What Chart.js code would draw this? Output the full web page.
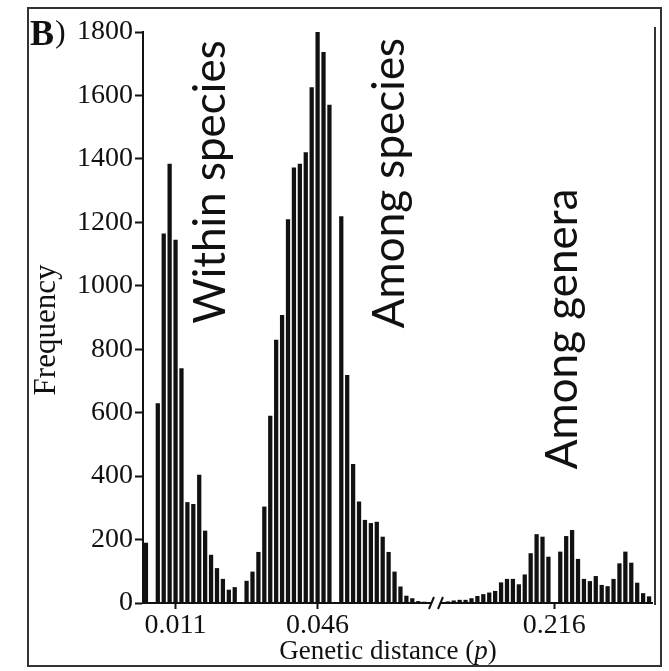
<!DOCTYPE html>
<html>
<head>
<meta charset="utf-8">
<script src="https://cdn.jsdelivr.net/npm/chart.js@4.4.1/dist/chart.umd.min.js"></script>
<style>
  html, body { margin: 0; padding: 0; background: #fff; }
  #wrap { position: relative; width: 669px; height: 671px; }
</style>
</head>
<body>
<div id="wrap"><canvas id="c" width="669" height="671"></canvas></div>
<script>
// ---- data ----
const frequencies = [
  190, 0, 630, 1165, 1385, 1145, 740, 318, 312, 404,
  228, 152, 110, 76, 42, 50, 0, 70, 99, 161,
  304, 590, 830, 908, 1210, 1373, 1385, 1421, 1626, 1800,
  1737, 1571, 0, 1219, 719, 438, 320, 262, 252, 256,
  209, 161, 99, 52, 23, 15, 6, 4, 3, 0,
  0, 5, 8, 10, 10, 15, 22, 28, 33, 38,
  65, 76, 76, 59, 90, 157, 217, 209, 146, 0,
  162, 211, 230, 139, 76, 69, 85, 57, 53, 76,
  125, 162, 127, 64, 31, 21
];
const tickLabelText = ["0.011", "0.046", "0.216"];
const tickLabelIndex = [5, 29, 69];
const breakIndex = 49;
const yTicks = [0, 200, 400, 600, 800, 1000, 1200, 1400, 1600, 1800];
const groupNames = ["Within species", "Among species", "Among genera"];
const groupIndex = [11, 41.2, 70.4];
const groupValue = [1327, 1324, 864];

const categories = frequencies.map((_, i) => {
  const k = tickLabelIndex.indexOf(i);
  return k >= 0 ? tickLabelText[k] : "";
});

const SERIF = "'Liberation Serif', 'Times New Roman', serif";
const SANS = "Lato, 'Liberation Sans', sans-serif";

const decor = {
  id: 'decor',
  afterDraw(chart) {
    const ctx = chart.ctx;
    const xs = chart.scales.x, ys = chart.scales.y;
    const area = chart.chartArea;
    ctx.save();
    // outer frame
    ctx.strokeStyle = '#333';
    ctx.lineWidth = 2;
    ctx.strokeRect(28, 8, 633, 658);
    // right plot border
    ctx.beginPath();
    ctx.moveTo(area.right + 3, area.top - 5);
    ctx.lineTo(area.right + 3, area.bottom + 2);
    ctx.stroke();
    // axis break
    const bx = xs.getPixelForValue(breakIndex);
    const by = area.bottom;
    ctx.fillStyle = '#fff';
    ctx.fillRect(bx - 4, by - 2, 8, 6);
    ctx.strokeStyle = '#111';
    ctx.lineWidth = 2;
    ctx.beginPath();
    ctx.moveTo(bx - 7, by + 6); ctx.lineTo(bx - 2, by - 6);
    ctx.moveTo(bx + 2, by + 6); ctx.lineTo(bx + 7, by - 6);
    ctx.stroke();
    // panel letter
    ctx.fillStyle = '#111';
    ctx.textAlign = 'left';
    ctx.textBaseline = 'alphabetic';
    ctx.font = "bold 36px " + SERIF;
    ctx.fillText("B", 30, 45);
    const wb = ctx.measureText("B").width;
    ctx.font = "32px " + SERIF;
    ctx.fillText(")", 30 + wb + 1, 42);
    // y title
    ctx.save();
    ctx.translate(47, 330);
    ctx.rotate(-Math.PI / 2);
    ctx.textAlign = 'center';
    ctx.textBaseline = 'middle';
    ctx.font = "31px " + SERIF;
    ctx.fillText("Frequency", 0, 0);
    ctx.restore();
    // x title with italic p
    const a = "Genetic distance (";
    ctx.font = "27px " + SERIF; const wa = ctx.measureText(a).width;
    ctx.font = "italic 27px " + SERIF; const wp = ctx.measureText("p").width;
    ctx.font = "27px " + SERIF; const wc = ctx.measureText(")").width;
    const total = wa + wp + wc;
    let tx = 388 - total / 2;
    const ty = 659;
    ctx.textAlign = 'left';
    ctx.font = "27px " + SERIF; ctx.fillText(a, tx, ty); tx += wa;
    ctx.font = "italic 27px " + SERIF; ctx.fillText("p", tx, ty); tx += wp;
    ctx.font = "27px " + SERIF; ctx.fillText(")", tx, ty);
    // group annotations
    ctx.font = "44px " + SANS;
    ctx.textAlign = 'center';
    ctx.textBaseline = 'middle';
    groupNames.forEach((name, i) => {
      const px = xs.getPixelForValue(groupIndex[i]);
      const py = ys.getPixelForValue(groupValue[i]);
      ctx.save();
      ctx.translate(px, py);
      ctx.rotate(-Math.PI / 2);
      ctx.fillText(name, 0, 0);
      ctx.restore();
    });
    ctx.restore();
  }
};

new Chart(document.getElementById('c'), {
  type: 'bar',
  data: {
    labels: categories,
    datasets: [{
      data: frequencies,
      backgroundColor: '#111',
      borderWidth: 0,
      barPercentage: 0.72,
      categoryPercentage: 1.0
    }]
  },
  options: {
    responsive: false,
    animation: false,
    events: [],
    layout: { padding: { left: 0, right: 17, top: 32, bottom: 0 } },
    plugins: { legend: { display: false }, tooltip: { enabled: false } },
    scales: {
      x: {
        grid: {
          offset: false,
          drawOnChartArea: false,
          drawTicks: true,
          tickLength: 6,
          tickWidth: 2,
          color: (c) => (c.tick && c.tick.label !== "" && c.tick.label !== undefined) ? '#111' : 'rgba(0,0,0,0)'
        },
        border: { display: true, color: '#111', width: 2 },
        ticks: {
          autoSkip: false,
          maxRotation: 0,
          minRotation: 0,
          padding: 0,
          color: '#111',
          font: { family: SERIF, size: 28 }
        },
        afterFit(s) { s.height = 68; }
      },
      y: {
        min: 0,
        max: 1800,
        afterBuildTicks(s) { s.ticks = yTicks.map(v => ({ value: v })); },
        grid: {
          drawOnChartArea: false,
          drawTicks: true,
          tickLength: 8,
          tickWidth: 2,
          color: '#111'
        },
        border: { display: true, color: '#111', width: 2 },
        ticks: {
          padding: 2,
          color: '#111',
          font: { family: SERIF, size: 28 },
          callback: (v) => String(v)
        },
        afterFit(s) { s.width = 143; }
      }
    }
  },
  plugins: [decor]
});
</script>
</body>
</html>
